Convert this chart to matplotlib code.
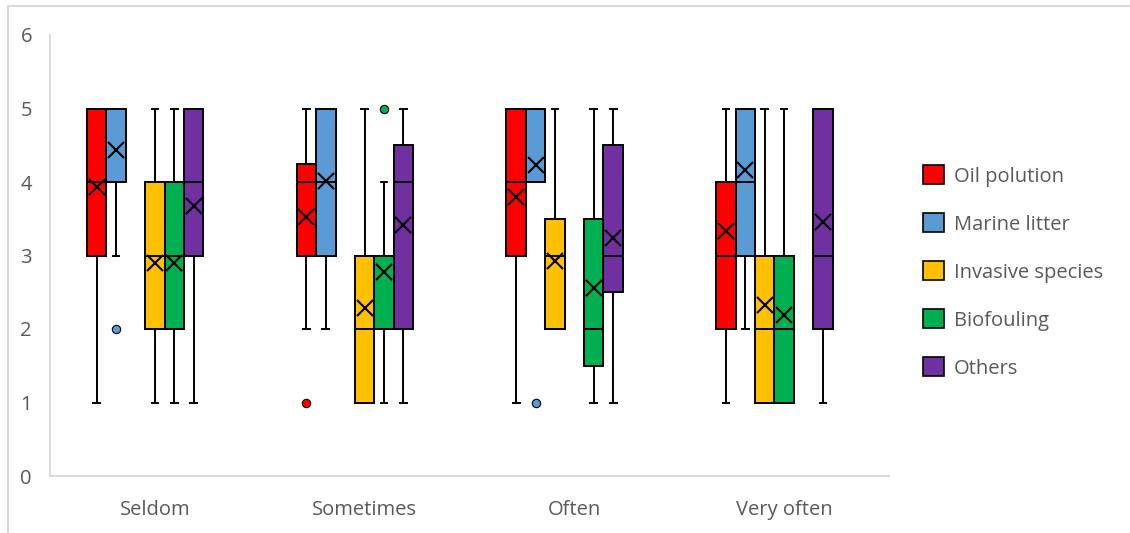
import numpy as np
import matplotlib
matplotlib.use('Agg')
import matplotlib.pyplot as plt
import matplotlib.patches as mpatches

plt.rcParams['font.family'] = ['Open Sans', 'DejaVu Sans']

categories = ['Seldom', 'Sometimes', 'Often', 'Very often']
series = ['Oil polution', 'Marine litter', 'Invasive species', 'Biofouling', 'Others']
colours = ['#FF0000', '#5B9BD5', '#FFC000', '#00B050', '#7030A0']

# box statistics, one row per series, one value per category
q1 = [[3, 3, 3, 2], [4, 3, 4, 3], [2, 1, 2, 1], [2, 2, 1.5, 1], [3, 2, 2.5, 2]]
median = [[4, 4, 4, 3], [4, 4, 4, 4], [3, 2, 3, 2], [3, 2, 2, 2], [4, 4, 3, 3]]
q3 = [[5, 4.25, 5, 4], [5, 5, 5, 5], [4, 3, 3.5, 3], [4, 3, 3.5, 3], [5, 4.5, 4.5, 5]]
whisker_low = [[1, 2, 1, 1], [3, 2, 4, 2], [1, 1, 2, 1], [1, 1, 1, 1], [1, 1, 1, 1]]
whisker_high = [[5, 5, 5, 5], [5, 5, 5, 5], [5, 5, 5, 5], [5, 4, 5, 5], [5, 5, 5, 5]]
means = [[3.93, 3.53, 3.8, 3.33], [4.43, 4.02, 4.23, 4.17], [2.9, 2.28, 2.92, 2.32],
         [2.9, 2.77, 2.56, 2.19], [3.67, 3.41, 3.24, 3.45]]
outliers = [[[], [1], [], []], [[2], [], [1], []], [[], [], [], []],
            [[], [5], [], []], [[], [], [], []]]

# slot of each box inside its category group (7 slots, some left empty)
slots = [[-3, -3, -3, -3], [-2, -2, -2, -2], [0, 0, -1, -1], [1, 1, 1, 0], [2, 2, 2, 2]]
slot_w = 0.0925

fig = plt.figure(figsize=(11.3, 5.33), dpi=100)
ax = fig.add_axes([50 / 1130, 1 - 476 / 533, 839 / 1130, 441 / 533])

for s, name in enumerate(series):
    stats = []
    pos = []
    for c in range(len(categories)):
        stats.append(dict(med=median[s][c], q1=q1[s][c], q3=q3[s][c],
                          whislo=whisker_low[s][c], whishi=whisker_high[s][c],
                          mean=means[s][c], fliers=np.array(outliers[s][c])))
        pos.append(c + slots[s][c] * slot_w)
    ax.bxp(stats, positions=pos, widths=slot_w, patch_artist=True,
           showmeans=True, manage_ticks=False, capwidths=0.032,
           boxprops=dict(facecolor=colours[s], edgecolor='black', linewidth=1.4),
           whiskerprops=dict(color='black', linewidth=1.4),
           capprops=dict(color='black', linewidth=1.4),
           medianprops=dict(color='black', linewidth=1.4),
           meanprops=dict(marker='x', markersize=12, markeredgecolor='black',
                          markeredgewidth=1.5),
           flierprops=dict(marker='o', markersize=6, markerfacecolor=colours[s],
                           markeredgecolor='black', markeredgewidth=0.8))

ax.set_xlim(-0.5, 3.5)
ax.set_ylim(0, 6)
ax.set_yticks(range(7))
ax.set_xticks(range(len(categories)))
ax.set_xticklabels(categories)
ax.tick_params(axis='both', length=0, labelsize=14.5, colors='#595959')
ax.tick_params(axis='x', pad=17)
ax.tick_params(axis='y', pad=13)
for side in ['top', 'right']:
    ax.spines[side].set_visible(False)
for side in ['left', 'bottom']:
    ax.spines[side].set_color('#D9D9D9')
    ax.spines[side].set_linewidth(1.3)

handles = [mpatches.Patch(facecolor=colours[i], edgecolor='black', linewidth=1.2, label=series[i])
           for i in range(len(series))]
fig.legend(handles=handles, loc='center left', bbox_to_anchor=(923 / 1130, 1 - 272 / 533),
           frameon=False, fontsize=14.5, handlelength=1.05, handleheight=1.05,
           handletextpad=0.5, labelspacing=1.33, borderpad=0, borderaxespad=0,
           labelcolor='#595959')

# light frame around the chart area
fig.patches.append(mpatches.Rectangle((8 / 1130, -0.1), 1.2, 1.1 - 6 / 533,
                                      transform=fig.transFigure, fill=False,
                                      edgecolor='#D9D9D9', linewidth=1.5))

fig.savefig('out.png', dpi=100)
